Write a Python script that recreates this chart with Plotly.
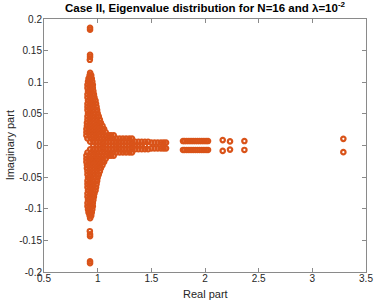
import plotly.graph_objects as go

# ---- data: eigenvalues (real part, imaginary part) ----
# isolated groups on the vertical spine (re, im)
spine_blobs = [
    (0.929, 0.186), (0.929, 0.183),
    (0.929, 0.1435), (0.929, 0.140), (0.927, 0.1355),
    (0.927, -0.1355), (0.929, -0.1405), (0.929, -0.1435),
    (0.929, -0.183), (0.929, -0.186),
]

# dense spine, rows of (imag, [real parts])
spine_rows_upper = [
    (0.115, [0.93]),
    (0.111, [0.925, 0.94]),
    (0.106, [0.915, 0.93, 0.945]),
    (0.101, [0.91, 0.93, 0.95]),
    (0.096, [0.905, 0.925, 0.945, 0.955]),
    (0.091, [0.905, 0.93, 0.955]),
    (0.086, [0.91, 0.935, 0.96]),
    (0.081, [0.905, 0.93, 0.955, 0.965]),
    (0.076, [0.905, 0.93, 0.955, 0.97]),
    (0.071, [0.91, 0.935, 0.96, 0.98]),
    (0.066, [0.905, 0.93, 0.955, 0.985]),
    (0.061, [0.905, 0.93, 0.955, 0.99]),
    (0.056, [0.905, 0.93, 0.96, 0.995]),
    (0.051, [0.91, 0.935, 0.965, 1.0]),
    (0.046, [0.905, 0.93, 0.96, 0.99, 1.01]),
    (0.041, [0.905, 0.93, 0.96, 0.99, 1.02]),
    (0.036, [0.90, 0.93, 0.96, 0.99, 1.015, 1.03]),
    (0.031, [0.90, 0.93, 0.96, 0.99, 1.02, 1.045]),
    (0.026, [0.895, 0.925, 0.955, 0.985, 1.015, 1.045, 1.06]),
    (0.021, [0.895, 0.925, 0.955, 0.985, 1.015, 1.045, 1.075]),
]
spine_rows_lower = [
    (-0.021, [0.895, 0.925, 0.955, 0.985, 1.015, 1.045, 1.075]),
    (-0.026, [0.895, 0.925, 0.955, 0.985, 1.015, 1.045, 1.06]),
    (-0.031, [0.90, 0.93, 0.96, 0.99, 1.02, 1.045]),
    (-0.036, [0.90, 0.93, 0.96, 0.99, 1.015, 1.03]),
    (-0.041, [0.905, 0.93, 0.96, 0.99, 1.02]),
    (-0.046, [0.905, 0.93, 0.96, 0.99, 1.01]),
    (-0.051, [0.91, 0.935, 0.965, 1.0]),
    (-0.056, [0.905, 0.93, 0.96, 0.995]),
    (-0.061, [0.905, 0.93, 0.955, 0.99]),
    (-0.066, [0.905, 0.93, 0.955, 0.985]),
    (-0.071, [0.91, 0.935, 0.96, 0.98]),
    (-0.076, [0.905, 0.93, 0.955, 0.97]),
    (-0.081, [0.905, 0.93, 0.955, 0.965]),
    (-0.086, [0.91, 0.935, 0.96]),
    (-0.091, [0.905, 0.93, 0.955]),
    (-0.096, [0.905, 0.925, 0.945, 0.955]),
    (-0.101, [0.91, 0.93, 0.95]),
    (-0.106, [0.915, 0.93, 0.945]),
    (-0.111, [0.925, 0.94]),
    (-0.115, [0.93]),
]

# horizontal branch near the real axis, rows of (imag, [real parts])
branch_rows = [
    (0.016, [0.895, 0.925, 0.955, 0.985, 1.015, 1.045, 1.075, 1.105, 1.125,
             1.15]),
    (0.011, [0.905, 0.935, 0.965, 0.995, 1.025, 1.055, 1.085, 1.115, 1.145,
             1.175, 1.205, 1.235, 1.265, 1.295, 1.32]),
    (0.006, [0.93, 0.96, 0.99, 1.02, 1.05, 1.08, 1.11, 1.14, 1.17, 1.20, 1.23,
             1.26, 1.29, 1.32, 1.35, 1.38, 1.41, 1.44, 1.47]),
    (0.0045, [1.50, 1.53, 1.56, 1.59, 1.615, 1.637]),
    (0.0, [0.96, 0.99, 1.02, 1.05, 1.08, 1.11, 1.14, 1.17, 1.20, 1.23, 1.26,
           1.29, 1.32, 1.35, 1.38, 1.41, 1.44]),
    (-0.0045, [1.50, 1.53, 1.56, 1.59, 1.615, 1.637]),
    (-0.006, [0.93, 0.96, 0.99, 1.02, 1.05, 1.08, 1.11, 1.14, 1.17, 1.20, 1.23,
              1.26, 1.29, 1.32, 1.35, 1.38, 1.41, 1.44, 1.47]),
    (-0.011, [0.905, 0.935, 0.965, 0.995, 1.025, 1.055, 1.085, 1.115, 1.145,
              1.175, 1.205, 1.235, 1.265, 1.295, 1.32]),
    (-0.016, [0.895, 0.925, 0.955, 0.985, 1.015, 1.045, 1.075, 1.105, 1.125,
              1.15]),
]

# second cluster (1.8 .. 2.03)
cluster_rows = [
    (0.007, [1.795, 1.81, 1.83, 1.85, 1.87, 1.89, 1.91, 1.93, 1.95, 1.97,
             1.99, 2.01, 2.028]),
    (-0.007, [1.795, 1.81, 1.83, 1.85, 1.87, 1.89, 1.91, 1.93, 1.95, 1.97,
              1.99, 2.01, 2.028]),
]

# isolated conjugate pairs
outliers = [
    (2.165, 0.0085), (2.165, -0.0085),
    (2.233, 0.0065), (2.233, -0.0065),
    (2.367, 0.007), (2.367, -0.007),
    (3.289, 0.0105), (3.289, -0.0105),
]

x_ticks = [0.5, 1, 1.5, 2, 2.5, 3, 3.5]
x_ticktext = ["0.5", "1", "1.5", "2", "2.5", "3", "3.5"]
y_ticks = [-0.2, -0.15, -0.1, -0.05, 0, 0.05, 0.1, 0.15, 0.2]
y_ticktext = ["-0.2", "-0.15", "-0.1", "-0.05", "0", "0.05", "0.1", "0.15", "0.2"]

# ---- assemble points ----
re_vals, im_vals = [], []
for r, i in spine_blobs + outliers:
    re_vals.append(r)
    im_vals.append(i)
for rows in (spine_rows_upper, spine_rows_lower, branch_rows, cluster_rows):
    for im, reals in rows:
        for r in reals:
            re_vals.append(r)
            im_vals.append(im)

COLOR = "#D95319"
AXC = "#8a8a8a"
FONT = "Liberation Sans, Arial, Helvetica, sans-serif"

fig = go.Figure(go.Scatter(
    x=re_vals, y=im_vals, mode="markers",
    marker=dict(symbol="circle-open", size=4.4, color=COLOR,
                line=dict(width=2.2, color=COLOR)),
    hoverinfo="skip", showlegend=False,
))

axis_common = dict(
    showline=True, linecolor=AXC, linewidth=1, mirror="ticks",
    ticks="inside", ticklen=4, tickcolor=AXC, tickwidth=1,
    showgrid=False, zeroline=False, automargin=False,
    ticklabeloverflow="allow",
    tickfont=dict(family=FONT, size=10, color="#262626"),
)

fig.update_layout(
    width=374, height=302,
    margin=dict(l=44, r=8, t=19, b=30),
    paper_bgcolor="white", plot_bgcolor="white",
    font=dict(family=FONT, color="#262626"),
    xaxis=dict(range=[0.5, 3.5], tickvals=x_ticks, ticktext=x_ticktext,
               ticklabelstandoff=-3, **axis_common),
    yaxis=dict(range=[-0.2, 0.2], tickvals=y_ticks, ticktext=y_ticktext,
               ticklabelstandoff=-1, **axis_common),
    annotations=[
        dict(text="<b>Case II, Eigenvalue distribution for N=16 and λ=10<sup>-2</sup></b>",
             xref="paper", yref="paper", x=0.5, y=1.047,
             xanchor="center", yanchor="middle", showarrow=False,
             font=dict(family=FONT, size=11.5, color="#000000")),
        dict(text="Real part", xref="paper", yref="paper", x=0.5, y=-0.086,
             xanchor="center", yanchor="middle", showarrow=False,
             font=dict(family=FONT, size=11, color="#262626")),
        dict(text="Imaginary part", xref="paper", yref="paper", x=-0.106,
             y=0.5, textangle=-90, xanchor="center", yanchor="middle",
             showarrow=False,
             font=dict(family=FONT, size=11, color="#262626")),
    ],
)

fig.write_html("out.html",
               config={"displayModeBar": False, "staticPlot": True},
               post_script="document.body.style.margin='0';"
                           "document.body.style.overflow='hidden';")
